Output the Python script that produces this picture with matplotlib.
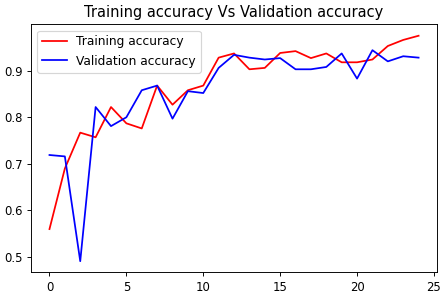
import matplotlib
matplotlib.use("Agg")
import matplotlib.pyplot as plt

epochs = list(range(25))
train_acc = [0.560, 0.690, 0.767, 0.757, 0.822, 0.787, 0.776, 0.868, 0.827, 0.858,
             0.868, 0.928, 0.937, 0.903, 0.906, 0.938, 0.942, 0.927, 0.937, 0.918,
             0.918, 0.924, 0.953, 0.966, 0.975]
val_acc = [0.719, 0.716, 0.491, 0.822, 0.781, 0.800, 0.858, 0.868, 0.797, 0.856,
           0.852, 0.906, 0.934, 0.928, 0.924, 0.927, 0.903, 0.903, 0.908, 0.937,
           0.883, 0.944, 0.920, 0.931, 0.928]

DPI = 84
fig = plt.figure(figsize=(447/DPI, 301/DPI), dpi=DPI)
ax = fig.add_axes([0.0694, 0.0947, 0.9083, 0.824])
ax.plot(epochs, train_acc, 'r', label='Training accuracy')
ax.plot(epochs, val_acc, 'b', label='Validation accuracy')
ax.set_title('Training accuracy Vs Validation accuracy', fontsize=12.5)
ax.legend(loc='upper left', fontsize=10.5)
fig.savefig('out.png', dpi=DPI)
